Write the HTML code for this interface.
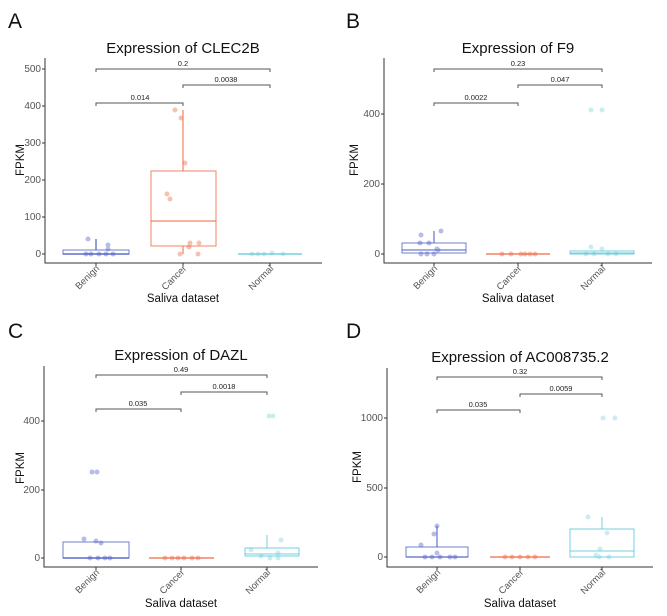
<!DOCTYPE html>
<html><head><meta charset="utf-8"><style>
html,body{margin:0;padding:0;background:#fff;}
svg{display:block;font-family:"Liberation Sans",Arial,sans-serif;}
.ax{stroke:#333;stroke-width:1;fill:none}
.tk{font-size:10px;fill:#555;text-anchor:end}
.xl{font-size:9.5px;fill:#555;text-anchor:end}
.ttl{font-size:15px;fill:#111;text-anchor:middle}
.lab{font-size:11.5px;fill:#111;text-anchor:middle}
.let{font-size:21px;fill:#111}
.br{stroke:#555;stroke-width:1;fill:none}
.pv{font-size:7.5px;fill:#222;text-anchor:middle}
.b{stroke:#4b5cc4;fill:none;stroke-opacity:.8}
.c{stroke:#f0643c;fill:none;stroke-opacity:.8}
.n{stroke:#55c6d4;fill:none;stroke-opacity:.8}
.pb{fill:#4b5cc4;opacity:.4}
.pc{fill:#f0643c;opacity:.4}
.pn{fill:#55c6d4;opacity:.3}
</style></head><body>
<svg width="667" height="616" viewBox="0 0 667 616">
<!-- Panel A -->
<text class="let" x="8" y="28">A</text>
<text class="ttl" x="183" y="53">Expression of CLEC2B</text>
<path class="ax" d="M45,58V263H322"/>
<g class="tk"><text x="41" y="257">0</text><text x="41" y="220">100</text><text x="41" y="183">200</text><text x="41" y="146">300</text><text x="41" y="109">400</text><text x="41" y="72">500</text></g>
<path class="ax" d="M42,254h3M42,217h3M42,180h3M42,143h3M42,106h3M42,69h3M96,263v3M183,263v3M270,263v3"/>
<path class="br" d="M96,72V69H270V72M183,88V85H270V88M96,106V103H183V106"/>
<text class="pv" x="183" y="66">0.2</text><text class="pv" x="226" y="82">0.0038</text><text class="pv" x="140" y="100">0.014</text>
<rect class="b" x="63" y="250" width="66" height="4"/><path class="b" d="M63,254H129M96,250V239" stroke-width="1.5"/>
<g class="pb"><circle cx="88" cy="239" r="2.5"/><circle cx="108" cy="245" r="2.5"/><circle cx="108" cy="249" r="2.5"/><circle cx="86" cy="254" r="2.5"/><circle cx="91" cy="254" r="2.5"/><circle cx="99" cy="254" r="2.5"/><circle cx="106" cy="254" r="2.5"/><circle cx="113" cy="254" r="2.5"/></g>
<rect class="c" x="151" y="171" width="65" height="75"/><path class="c" d="M151,221H216M183,171V110M183,246V254" stroke-width="1.2"/>
<g class="pc"><circle cx="175" cy="110" r="2.5"/><circle cx="181" cy="118" r="2.5"/><circle cx="185" cy="163" r="2.5"/><circle cx="167" cy="194" r="2.5"/><circle cx="170" cy="199" r="2.5"/><circle cx="190" cy="243" r="2.5"/><circle cx="199" cy="243" r="2.5"/><circle cx="189" cy="247" r="2.5"/><circle cx="180" cy="254" r="2.5"/><circle cx="198" cy="254" r="2.5"/></g>
<path class="n" d="M238,254H302" stroke-width="1.5"/>
<g class="pn"><circle cx="252" cy="254" r="2.5"/><circle cx="258" cy="254" r="2.5"/><circle cx="264" cy="254" r="2.5"/><circle cx="272" cy="253" r="2.5"/><circle cx="283" cy="254" r="2.5"/></g>
<g class="xl"><text transform="translate(100,269) rotate(-45)">Benign</text><text transform="translate(187,269) rotate(-45)">Cancer</text><text transform="translate(274,269) rotate(-45)">Normal</text></g>
<text class="lab" x="183" y="302">Saliva dataset</text>
<text class="lab" transform="translate(24,160) rotate(-90)">FPKM</text>

<!-- Panel B -->
<text class="let" x="346" y="28">B</text>
<text class="ttl" x="518" y="53">Expression of F9</text>
<path class="ax" d="M384,58V263H652"/>
<g class="tk"><text x="380" y="257">0</text><text x="380" y="187">200</text><text x="380" y="117">400</text></g>
<path class="ax" d="M381,254h3M381,184h3M381,114h3M434,263v3M518,263v3M602,263v3"/>
<path class="br" d="M434,72V69H602V72M518,88V85H602V88M434,106V103H518V106"/>
<text class="pv" x="518" y="66">0.23</text><text class="pv" x="560" y="82">0.047</text><text class="pv" x="476" y="100">0.0022</text>
<rect class="b" x="402" y="243" width="64" height="10"/><path class="b" d="M402,250H466M434,243V231" stroke-width="1.3"/>
<g class="pb"><circle cx="421" cy="235" r="2.5"/><circle cx="441" cy="231" r="2.5"/><circle cx="420" cy="243" r="2.5"/><circle cx="429" cy="243" r="2.5"/><circle cx="437" cy="249" r="2.5"/><circle cx="438" cy="250" r="2.5"/><circle cx="421" cy="254" r="2.5"/><circle cx="427" cy="254" r="2.5"/><circle cx="434" cy="254" r="2.5"/></g>
<path class="c" d="M486,254H550" stroke-width="1.5"/>
<g class="pc"><circle cx="502" cy="254" r="2.5"/><circle cx="511" cy="254" r="2.5"/><circle cx="521" cy="254" r="2.5"/><circle cx="525" cy="254" r="2.5"/><circle cx="530" cy="254" r="2.5"/><circle cx="535" cy="254" r="2.5"/></g>
<rect class="n" x="570" y="251" width="64" height="3"/><path class="n" d="M570,253H634"/>
<g class="pn"><circle cx="591" cy="110" r="2.5"/><circle cx="602" cy="110" r="2.5"/><circle cx="591" cy="247" r="2.5"/><circle cx="602" cy="249" r="2.5"/><circle cx="586" cy="254" r="2.5"/><circle cx="594" cy="254" r="2.5"/><circle cx="608" cy="254" r="2.5"/><circle cx="616" cy="254" r="2.5"/></g>
<g class="xl"><text transform="translate(438,269) rotate(-45)">Benign</text><text transform="translate(522,269) rotate(-45)">Cancer</text><text transform="translate(606,269) rotate(-45)">Normal</text></g>
<text class="lab" x="518" y="302">Saliva dataset</text>
<text class="lab" transform="translate(358,160) rotate(-90)">FPKM</text>

<!-- Panel C -->
<text class="let" x="8" y="338">C</text>
<text class="ttl" x="181" y="360">Expression of DAZL</text>
<path class="ax" d="M44,366V567H318"/>
<g class="tk"><text x="40" y="561">0</text><text x="40" y="493">200</text><text x="40" y="424">400</text></g>
<path class="ax" d="M41,558h3M41,490h3M41,421h3M96,567v3M181,567v3M267,567v3"/>
<path class="br" d="M96,378V375H267V378M181,395V392H267V395M96,412V409H181V412"/>
<text class="pv" x="181" y="372">0.49</text><text class="pv" x="224" y="389">0.0018</text><text class="pv" x="138" y="406">0.035</text>
<rect class="b" x="63" y="542" width="66" height="16"/><path class="b" d="M63,558H129" stroke-width="1.5"/>
<g class="pb"><circle cx="92" cy="472" r="2.5"/><circle cx="97" cy="472" r="2.5"/><circle cx="84" cy="539" r="2.5"/><circle cx="96" cy="541" r="2.5"/><circle cx="101" cy="543" r="2.5"/><circle cx="90" cy="558" r="2.5"/><circle cx="98" cy="558" r="2.5"/><circle cx="105" cy="558" r="2.5"/><circle cx="110" cy="558" r="2.5"/></g>
<path class="c" d="M149,558H214" stroke-width="1.5"/>
<g class="pc"><circle cx="165" cy="558" r="2.5"/><circle cx="172" cy="558" r="2.5"/><circle cx="178" cy="558" r="2.5"/><circle cx="184" cy="558" r="2.5"/><circle cx="192" cy="558" r="2.5"/><circle cx="198" cy="558" r="2.5"/></g>
<rect class="n" x="245" y="548" width="54" height="8"/><path class="n" d="M245,554H299M267,548V535"/>
<g class="pn"><circle cx="269" cy="416" r="2.5"/><circle cx="273" cy="416" r="2.5"/><circle cx="281" cy="540" r="2.5"/><circle cx="251" cy="550" r="2.5"/><circle cx="261" cy="556" r="2.5"/><circle cx="270" cy="558" r="2.5"/><circle cx="278" cy="558" r="2.5"/><circle cx="278" cy="553" r="2.5"/></g>
<g class="xl"><text transform="translate(100,573) rotate(-45)">Benign</text><text transform="translate(185,573) rotate(-45)">Cancer</text><text transform="translate(271,573) rotate(-45)">Normal</text></g>
<text class="lab" x="181" y="607">Saliva dataset</text>
<text class="lab" transform="translate(24,468) rotate(-90)">FPKM</text>

<!-- Panel D -->
<text class="let" x="346" y="338">D</text>
<text class="ttl" x="520" y="362">Expression of AC008735.2</text>
<path class="ax" d="M387,368V567H653"/>
<g class="tk"><text x="383" y="560">0</text><text x="383" y="491">500</text><text x="383" y="421">1000</text></g>
<path class="ax" d="M384,557h3M384,488h3M384,418h3M437,567v3M520,567v3M602,567v3"/>
<path class="br" d="M437,380V377H602V380M520,397V394H602V397M437,413V410H520V413"/>
<text class="pv" x="520" y="374">0.32</text><text class="pv" x="561" y="391">0.0059</text><text class="pv" x="478" y="407">0.035</text>
<rect class="b" x="406" y="547" width="62" height="10"/><path class="b" d="M406,557H468M437,547V526" stroke-width="1.3"/>
<g class="pb"><circle cx="437" cy="526" r="2.5"/><circle cx="434" cy="534" r="2.5"/><circle cx="421" cy="545" r="2.5"/><circle cx="437" cy="553" r="2.5"/><circle cx="425" cy="557" r="2.5"/><circle cx="432" cy="557" r="2.5"/><circle cx="440" cy="557" r="2.5"/><circle cx="450" cy="557" r="2.5"/><circle cx="455" cy="557" r="2.5"/></g>
<path class="c" d="M490,557H550" stroke-width="1.5"/>
<g class="pc"><circle cx="505" cy="557" r="2.5"/><circle cx="512" cy="557" r="2.5"/><circle cx="520" cy="557" r="2.5"/><circle cx="528" cy="557" r="2.5"/><circle cx="535" cy="557" r="2.5"/></g>
<rect class="n" x="570" y="529" width="64" height="28"/><path class="n" d="M570,551H634M602,529V517"/>
<g class="pn"><circle cx="603" cy="418" r="2.5"/><circle cx="615" cy="418" r="2.5"/><circle cx="588" cy="517" r="2.5"/><circle cx="607" cy="533" r="2.5"/><circle cx="600" cy="549" r="2.5"/><circle cx="596" cy="555" r="2.5"/><circle cx="599" cy="557" r="2.5"/><circle cx="609" cy="557" r="2.5"/></g>
<g class="xl"><text transform="translate(441,573) rotate(-45)">Benign</text><text transform="translate(524,573) rotate(-45)">Cancer</text><text transform="translate(606,573) rotate(-45)">Normal</text></g>
<text class="lab" x="520" y="607">Saliva dataset</text>
<text class="lab" transform="translate(361,467) rotate(-90)">FPKM</text>
</svg>
</body></html>
